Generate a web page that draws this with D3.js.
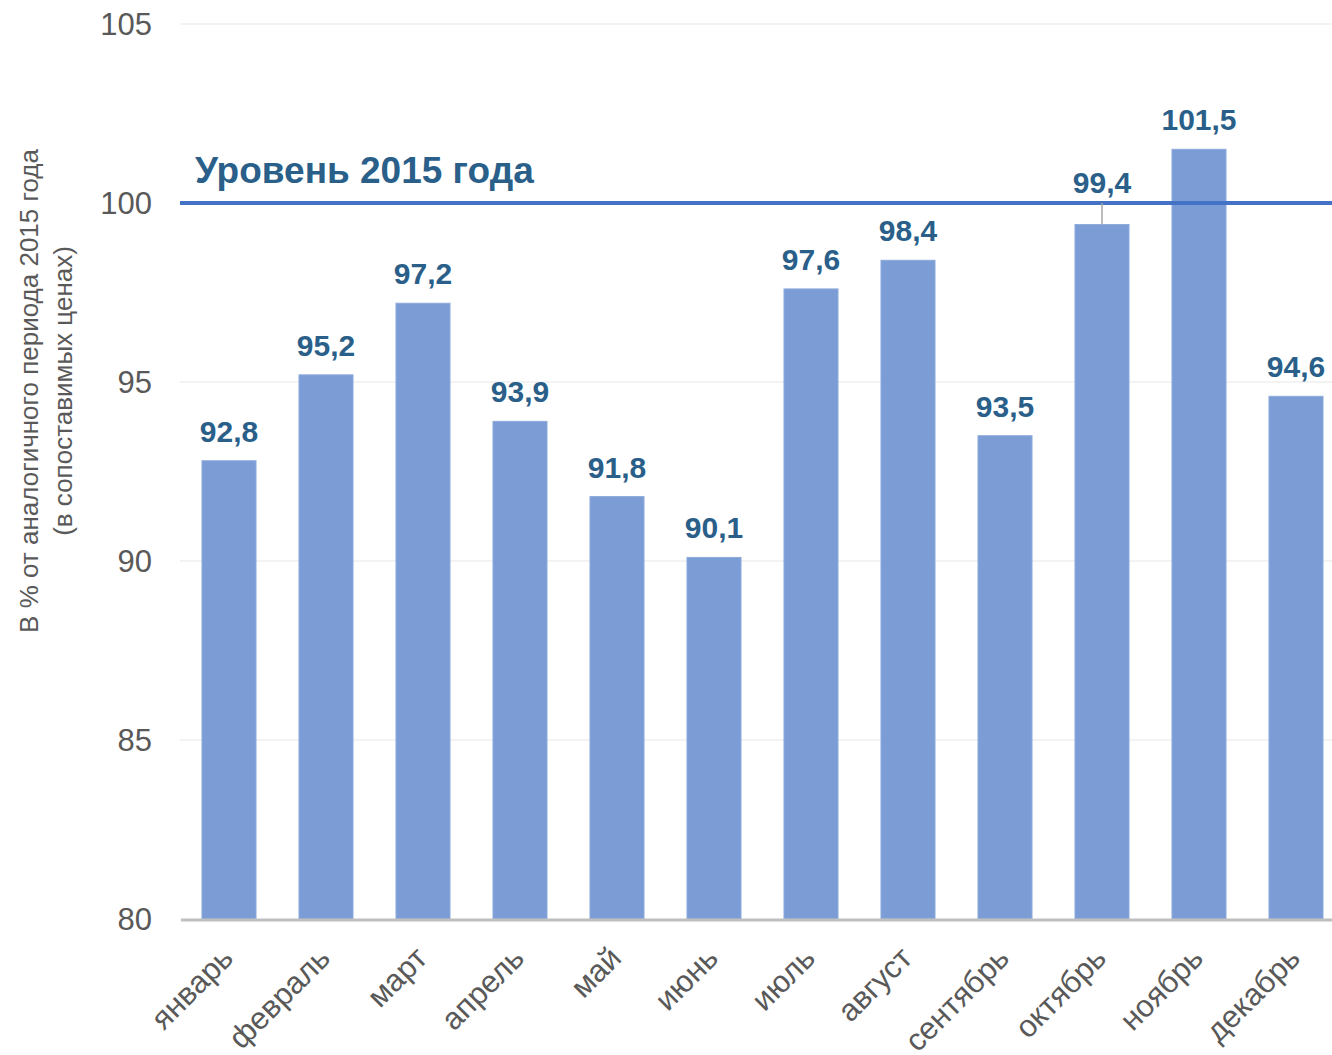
<!DOCTYPE html>
<html><head><meta charset="utf-8">
<script src="https://cdn.jsdelivr.net/npm/d3@7/dist/d3.min.js"></script>
<style>html,body{margin:0;padding:0;background:#fff;}svg{display:block;}</style>
</head><body>
<svg id="chart" width="1332" height="1055"></svg>
<script>
const months = ["январь","февраль","март","апрель","май","июнь","июль","август","сентябрь","октябрь","ноябрь","декабрь"];
const values = [92.8,95.2,97.2,93.9,91.8,90.1,97.6,98.4,93.5,99.4,101.5,94.6];
const labels = ["92,8","95,2","97,2","93,9","91,8","90,1","97,6","98,4","93,5","99,4","101,5","94,6"];
const yTicks = [80,85,90,95,100,105];
const refValue = 100;
const refLabel = "Уровень 2015 года";
const yTitle = ["В % от аналогичного периода 2015 года","(в сопоставимых ценах)"];

const svg = d3.select("#chart");
const font = "'Liberation Sans', Arial, sans-serif";
const y = d3.scaleLinear().domain([80,105]).range([919,24]);
const x = d3.scaleBand().domain(months).range([180.5,1344.5]).paddingInner(0.443).paddingOuter(0.2215);

// gridlines
svg.append("g").selectAll("line").data(yTicks.filter(d=>d!==80)).join("line")
  .attr("x1",180).attr("x2",1332).attr("y1",d=>y(d)).attr("y2",d=>y(d))
  .attr("stroke","#efefef").attr("stroke-width",1.5);

// y tick labels
svg.append("g").selectAll("text").data(yTicks).join("text")
  .attr("x",152).attr("y",d=>y(d)).attr("dy","0.36em").attr("text-anchor","end")
  .attr("font-family",font).attr("font-size",31).attr("fill","#595959").text(d=>d);

// bars
svg.append("g").selectAll("rect").data(values).join("rect")
  .attr("x",(d,i)=>x(months[i])).attr("width",x.bandwidth())
  .attr("y",d=>y(d)).attr("height",d=>y(80)-y(d))
  .attr("fill","#7b9cd5").attr("stroke","#8fabdc").attr("stroke-width",1);

// baseline axis
svg.append("line").attr("x1",181).attr("x2",1332).attr("y1",y(80)+1).attr("y2",y(80)+1)
  .attr("stroke","#bfbfbf").attr("stroke-width",3);

// reference line
svg.append("line").attr("x1",180).attr("x2",1332).attr("y1",y(refValue)).attr("y2",y(refValue))
  .attr("stroke","#4472c4").attr("stroke-width",4);
svg.append("text").attr("x",195).attr("y",y(refValue)-20)
  .attr("font-family",font).attr("font-weight","bold").attr("font-size",37).attr("fill","#2a5f8a").text(refLabel);

// leader line for October
const oi = 9;
svg.append("line").attr("x1",x(months[oi])+x.bandwidth()/2).attr("x2",x(months[oi])+x.bandwidth()/2)
  .attr("y1",y(refValue)).attr("y2",y(values[oi])).attr("stroke","#a6a6a6").attr("stroke-width",1.5);

// value labels
svg.append("g").selectAll("text").data(values).join("text")
  .attr("x",(d,i)=>x(months[i])+x.bandwidth()/2)
  .attr("y",(d,i)=> i===oi ? y(refValue)-10 : y(d)-19)
  .attr("text-anchor","middle").attr("font-family",font).attr("font-weight","bold")
  .attr("font-size",30).attr("fill","#2a5f8a").text((d,i)=>labels[i]);

// x labels
svg.append("g").selectAll("text").data(months).join("text")
  .attr("transform",d=>`translate(${x(d)+x.bandwidth()/2+6},${960}) rotate(-45)`)
  .attr("text-anchor","end").attr("font-family",font).attr("font-size",31).attr("fill","#595959").text(d=>d);

// y title
const tg = svg.append("g").attr("transform","translate(0,391) rotate(-90)");
tg.append("text").attr("x",0).attr("y",38).attr("text-anchor","middle")
  .attr("font-family",font).attr("font-size",26).attr("fill","#595959").text(yTitle[0]);
tg.append("text").attr("x",0).attr("y",72).attr("text-anchor","middle")
  .attr("font-family",font).attr("font-size",26).attr("fill","#595959").text(yTitle[1]);
</script>
</body></html>
